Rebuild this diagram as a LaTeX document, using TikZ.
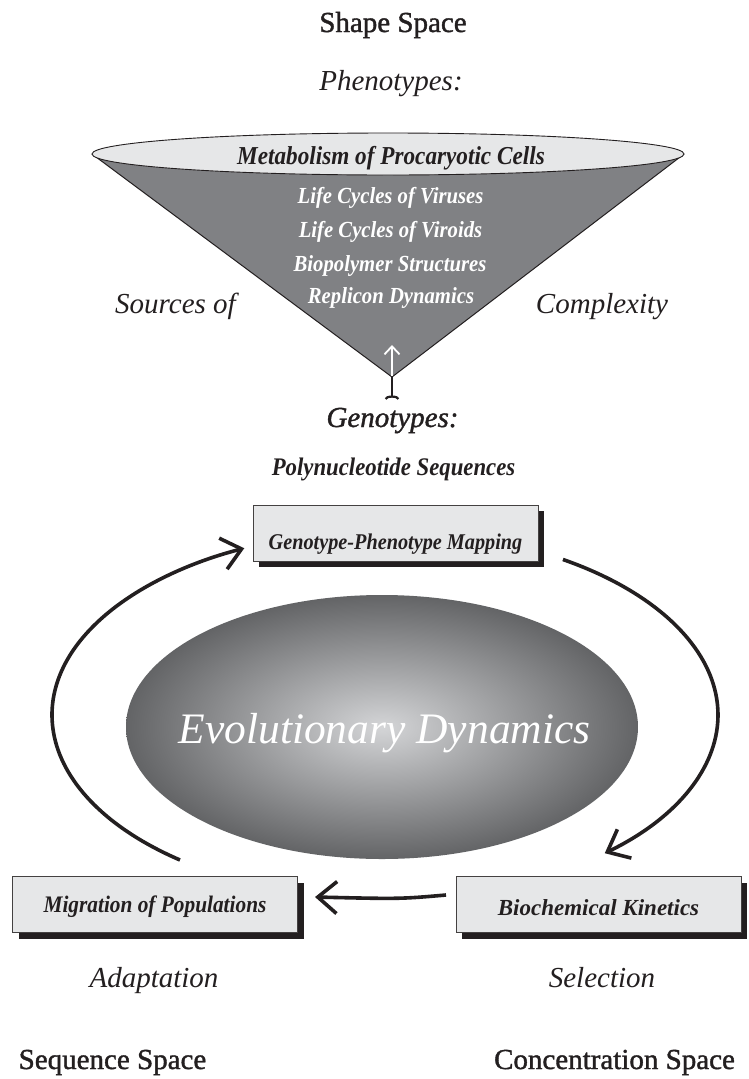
\documentclass[tikz,border=0pt]{standalone}
\usepackage{fontspec}
\usepackage{graphicx}
\setmainfont{Liberation Serif}
\newfontfamily\heavyserif[FakeBold=1.3]{Liberation Serif}
\usetikzlibrary{arrows.meta,calc,shadows}
\definecolor{conegray}{HTML}{808184}
\definecolor{paleg}{HTML}{E6E7E8}
\definecolor{ink}{HTML}{231F20}
\definecolor{ringin}{HTML}{D4D5D7}
\definecolor{ringout}{HTML}{636466}
\newcommand{\fs}[1]{\fontsize{#1}{#1}\selectfont}
\newcommand{\cond}[1]{\scalebox{0.9}[1]{#1}}
\begin{document}
\begin{tikzpicture}[x=1pt,y=-1pt,
  lbl/.style={anchor=base, inner sep=0pt, text=ink},
  title/.style={lbl, font=\heavyserif\fs{29}},
  itl/.style={lbl, font=\fs{29}\itshape},
  bi/.style={lbl, font=\fs{#1}\bfseries\itshape},
  inwhite/.style={lbl, text=white, font=\fs{23}\bfseries\itshape},
  box/.style={draw=ink!85, line width=0.8pt, fill=paleg, minimum width=285pt,
    minimum height=56pt, inner sep=0pt, text=ink,
    drop shadow={shadow xshift=6pt, shadow yshift=-6pt, fill=ink, opacity=1}},
  flow/.style={draw=ink, line width=3.6pt, -{Straight Barb[length=19pt,width=32pt]}},
]
\fill[white] (0,0) rectangle (748,1079);
\useasboundingbox (0,0) rectangle (748,1079);

% ---- cone ----
\coordinate (apex) at (392,377);
\coordinate (cl) at (92,154);
\coordinate (cr) at (684,154);
\fill[conegray] (cl) -- (apex) -- (cr) -- cycle;
\draw[ink, line width=1pt] (cl) -- (apex) -- (cr);
\draw[ink, line width=0.9pt, fill=paleg] (388,154) ellipse [x radius=296, y radius=21];

% ---- texts at top ----
\node[title] (shape) at (393,32) {Shape Space};
\node[itl] (pheno) at (391,90) {Phenotypes:};
\node[bi=25.8] (meta) at (391,164) {\cond{Metabolism of Procaryotic Cells}};
\node[inwhite] (vir) at (390.5,203) {\cond{Life Cycles of Viruses}};
\node[inwhite] (vird) at (390.5,237) {\cond{Life Cycles of Viroids}};
\node[inwhite] (bio) at (390,271) {\cond{Biopolymer Structures}};
\node[inwhite] (rep) at (391,303) {\cond{Replicon Dynamics}};
\node[itl] (src) at (175.5,313) {Sources of};
\node[itl] (cpx) at (602,313) {Complexity};

% ---- stem and white arrow ----
\coordinate (foot) at (392,399);
\coordinate (wtip) at (392,345);
\draw[ink, line width=2.2pt, -{Arc Barb[reversed,length=3.5pt,width=15pt]}] (apex) -- (foot);
\draw[white, line width=1.8pt, -{Straight Barb[length=8pt,width=15pt]}] ($(apex)+(0,-1)$) -- (wtip);

\node[lbl, font=\heavyserif\fs{29}\itshape] (geno) at (392.5,427) {Genotypes:};
\node[bi=25.3] (poly) at (393.5,475) {\cond{Polynucleotide Sequences}};

% ---- central ellipse ----
\shade[inner color=ringin, outer color=ringout] (382,727) ellipse [x radius=256, y radius=132];
\node[lbl, text=white, font=\fs{43.5}\itshape] (evo) at (384.5,743) {Evolutionary Dynamics};

% ---- boxes ----
\node[box, font=\fs{22.5}\bfseries\itshape, text height=32pt, text depth=0pt] (gp) at (395.5,533) {\cond{Genotype-Phenotype Mapping}};
\node[box, font=\fs{23.7}\bfseries\itshape, text height=16pt, text depth=0pt] (mig) at (155,904.5) {\cond{Migration of Populations}};
\node[box, font=\fs{23}\bfseries\itshape, text height=21pt, text depth=0pt] (bk) at (598.5,904.5) {Biochemical Kinetics};

% ---- cycle arrows ----
\coordinate (ctr) at (385,715);
\coordinate (lstart) at ($(ctr)+(128:333 and 184)$);
\coordinate (rstart) at ($(ctr)+(-57.7:333 and 184)$);
\coordinate (bstart) at (446,895);
\coordinate (bend) at (315,897);
\draw[flow] (lstart) arc[start angle=128, end angle=245, x radius=333, y radius=184];
\draw[flow] (rstart) arc[start angle=-57.7, end angle=48.7, x radius=333, y radius=184];
\draw[flow] (bstart) .. controls (400,899) .. (bend);

% ---- bottom labels ----
\node[itl] (adapt) at (154,987) {Adaptation};
\node[itl] (sel) at (602,987) {Selection};
\node[title] (seq) at (112.5,1069) {Sequence Space};
\node[title] (conc) at (614.5,1069) {Concentration Space};
\end{tikzpicture}
\end{document}
